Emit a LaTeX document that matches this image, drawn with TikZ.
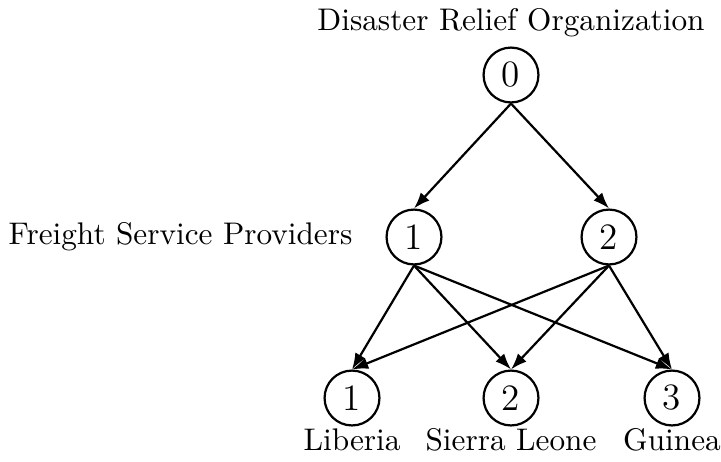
\documentclass[tikz,border=0pt]{standalone}
\usetikzlibrary{arrows.meta}
\begin{document}
\begin{tikzpicture}[x=0.3389pt,y=-0.3389pt,
  font=\fontsize{10.6}{13}\selectfont,
  vtx/.style={circle,draw,line width=0.75pt,minimum size=18.6pt,inner sep=0pt,
    font=\fontsize{12.6}{15}\selectfont},
  lbl/.style={inner sep=0pt},
  edge/.style={line width=0.75pt,-{Latex[length=5.5pt,width=4pt]}}]
  \useasboundingbox (0,0) rectangle (721,461);
  % organisation level
  \node[lbl] (tOrg) at (511,23) {Disaster Relief Organization};
  \node[vtx] (n0) at (511,75) {0};
  % freight providers
  \node[vtx] (f1) at (414,237) {1};
  \node[vtx] (f2) at (609,237) {2};
  \node[lbl,anchor=east] (tFre) at (353,237) {Freight Service Providers};
  % countries
  \node[vtx] (c1) at (352,398) {1};
  \node[vtx] (c2) at (511,398) {2};
  \node[vtx] (c3) at (672,398) {3};
  \node[lbl] (tLib) at (352,440) {Liberia};
  \node[lbl] (tSie) at (511,440) {Sierra Leone};
  \node[lbl] (tGui) at (672,440) {Guinea};
  % connections
  \draw[edge] (n0.south) -- (f1.north);
  \draw[edge] (n0.south) -- (f2.north);
  \foreach \s in {f1,f2}
    \foreach \t in {c1,c2,c3}
      \draw[edge] (\s.south) -- (\t.north);
\end{tikzpicture}
\end{document}
